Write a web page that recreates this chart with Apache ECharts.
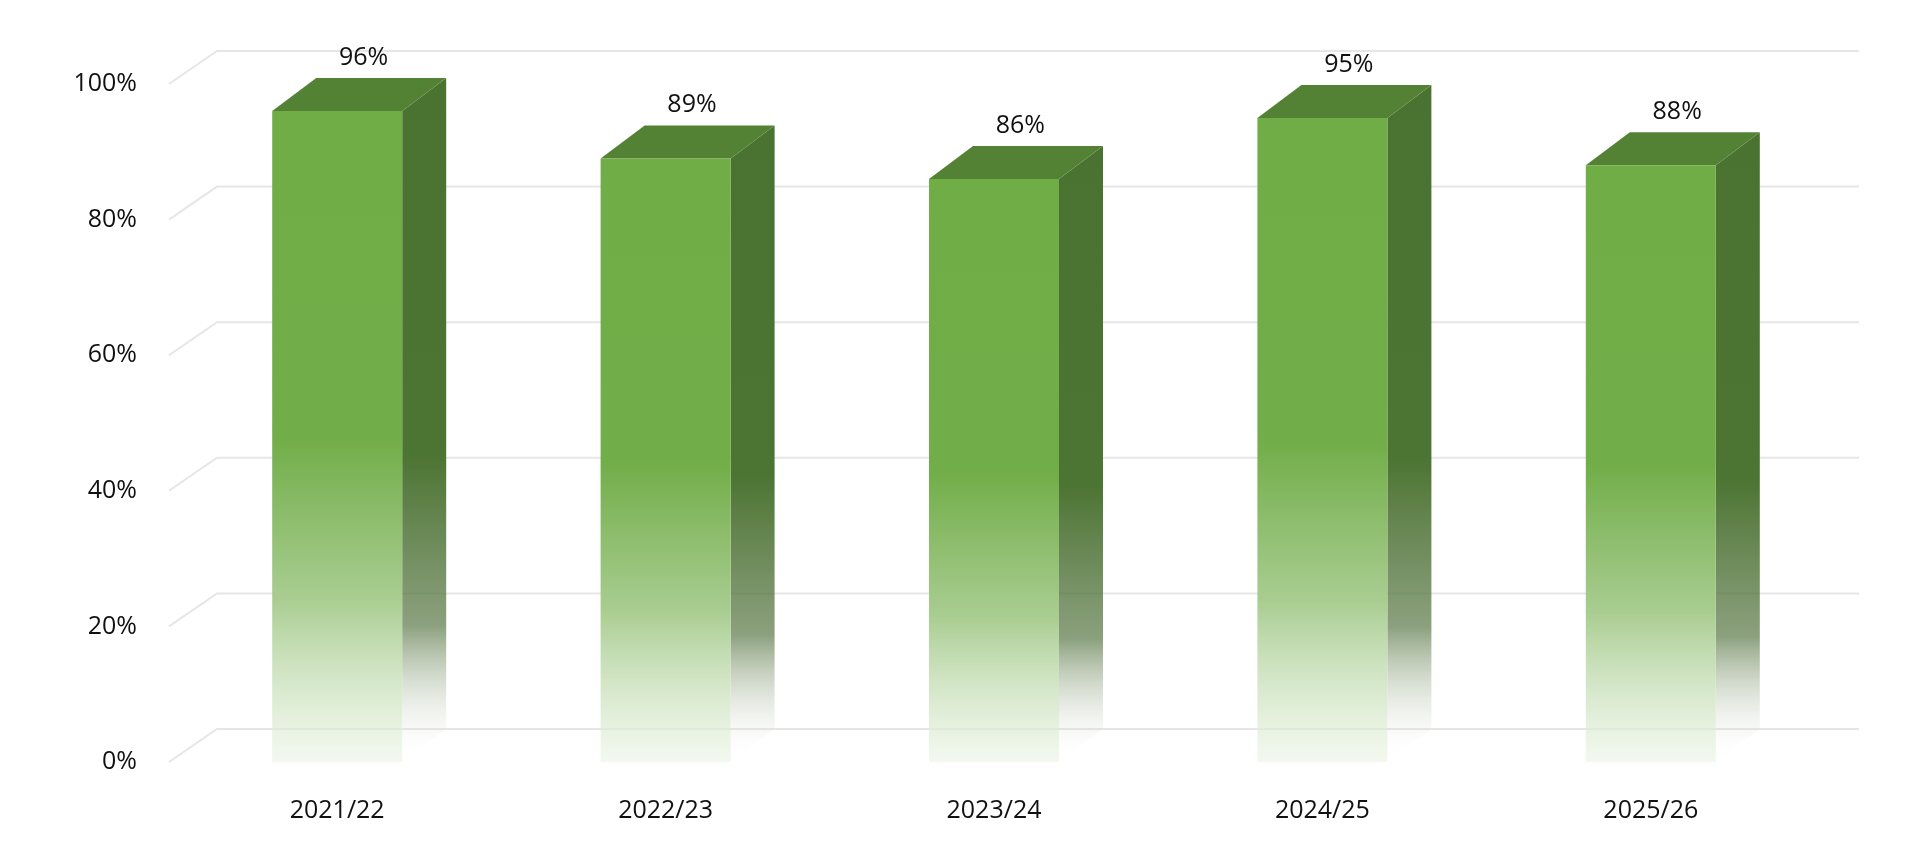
<!DOCTYPE html>
<html><head><meta charset="utf-8">
<script src="https://cdn.jsdelivr.net/npm/echarts@6/dist/echarts.min.js"></script>
<style>html,body{margin:0;background:#fff}#c{width:1920px;height:855px}</style>
</head><body><div id="c"></div>
<script>
const categories = ['2021/22','2022/23','2023/24','2024/25','2025/26'];
const values = [96, 89, 86, 95, 88];
const labels = ['96%','89%','86%','95%','88%'];
const yTicks = [0, 20, 40, 60, 80, 100];

const DX = 44, DY = 33, BW = 130;
const FONT = 'Open Sans, Noto Sans, sans-serif';
const chart = echarts.init(document.getElementById('c'));
chart.setOption({
  animation: false,
  grid: {left: 173, right: 105, top: 84, bottom: 93},
  xAxis: {type: 'category', data: categories, axisLine: {show: false}, axisTick: {show: false},
    axisLabel: {fontSize: 25, color: '#111', margin: 36, fontFamily: FONT}},
  yAxis: {type: 'value', min: 0, max: 100, interval: 20, splitLine: {show: false},
    axisLabel: {formatter: '{value}%', fontSize: 25, color: '#111', margin: 36, fontFamily: FONT}},
  series: [
    {type: 'custom', silent: true, z: 1,
     data: yTicks.map(v => [0, v]),
     renderItem: function (params, api) {
       const p = api.coord([0, api.value(1)]);
       const cs = params.coordSys;
       const x0 = cs.x - 4, y = p[1];
       return {type: 'polyline', shape: {points: [[x0, y], [x0 + DX + 4, y - DY], [cs.x + cs.width + DX, y - DY]]},
         style: {stroke: '#e6e6e6', lineWidth: 2, fill: null}};
     }},
    {type: 'custom', z: 2,
     data: values.map((v, i) => [i, v]),
     renderItem: function (params, api) {
       const top = api.coord([api.value(0), api.value(1)]);
       const base = api.coord([api.value(0), 0]);
       const xl = top[0] - BW / 2, xr = top[0] + BW / 2;
       const yt = top[1], yb = base[1];
       const frontFill = new echarts.graphic.LinearGradient(0, 0, 0, 1, [
         {offset: 0, color: '#70AD47'}, {offset: 0.5, color: '#71AD48'},
         {offset: 0.75, color: '#a9cd91'}, {offset: 1, color: 'rgba(235,244,229,0.6)'}]);
       const sideFill = new echarts.graphic.LinearGradient(0, 0, 0, 1, [
         {offset: 0, color: '#4A7230'}, {offset: 0.55, color: '#4C7432'},
         {offset: 0.8, color: 'rgba(90,120,70,0.7)'}, {offset: 1, color: 'rgba(255,255,255,0)'}]);
       return {type: 'group', children: [
         {type: 'polygon', shape: {points: [[xr, yt], [xr + DX, yt - DY], [xr + DX, yb - DY], [xr, yb]]}, style: {fill: sideFill}},
         {type: 'polygon', shape: {points: [[xl, yt], [xl + DX, yt - DY], [xr + DX, yt - DY], [xr, yt]]}, style: {fill: '#548235'}},
         {type: 'rect', shape: {x: xl, y: yt, width: BW, height: yb - yt}, style: {fill: frontFill}},
         {type: 'text', style: {text: labels[params.dataIndex], x: top[0] + DX * 0.6, y: yt - DY - 8,
           align: 'center', verticalAlign: 'bottom', fontSize: 25, fill: '#111', fontFamily: FONT}}
       ]};
     }}
  ]
});
</script></body></html>
